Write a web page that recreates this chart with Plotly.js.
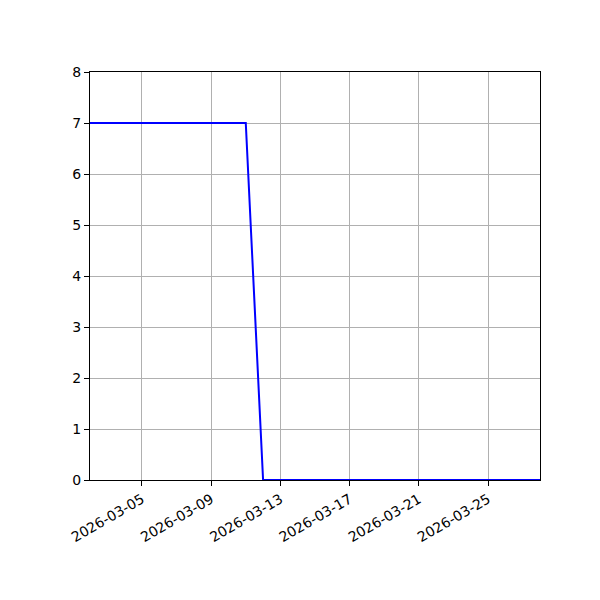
<!DOCTYPE html>
<html>
<head>
<meta charset="utf-8">
<script src="https://cdn.plot.ly/plotly-3.0.1.min.js"></script>
<style>
  html, body { margin: 0; padding: 0; background: #fff; }
  #chart { width: 600px; height: 600px; }
</style>
</head>
<body>
<div id="chart"></div>
<script>
// daily values
var dates = [
  "2026-03-02", "2026-03-03", "2026-03-04", "2026-03-05", "2026-03-06", "2026-03-07",
  "2026-03-08", "2026-03-09", "2026-03-10", "2026-03-11", "2026-03-12", "2026-03-13",
  "2026-03-14", "2026-03-15", "2026-03-16", "2026-03-17", "2026-03-18", "2026-03-19",
  "2026-03-20", "2026-03-21", "2026-03-22", "2026-03-23", "2026-03-24", "2026-03-25",
  "2026-03-26", "2026-03-27", "2026-03-28"
];
var counts = [7, 7, 7, 7, 7, 7, 7, 7, 7, 7, 0, 0, 0, 0, 0, 0, 0, 0, 0, 0, 0, 0, 0, 0, 0, 0, 0];
var tickDates = ["2026-03-05", "2026-03-09", "2026-03-13", "2026-03-17", "2026-03-21", "2026-03-25"];
var yTicks = [0, 1, 2, 3, 4, 5, 6, 7, 8];

var axisCommon = {
  showline: true, linecolor: "#000", linewidth: 1, mirror: true,
  ticks: "outside", ticklen: 5, tickwidth: 1, tickcolor: "#000",
  showgrid: true, gridcolor: "#b0b0b0", gridwidth: 1,
  zeroline: false, tickfont: { family: "DejaVu Sans", size: 14, color: "#000" }
};

var trace = {
  x: dates, y: counts, type: "scatter", mode: "lines",
  line: { color: "#0000ff", width: 2 }, hoverinfo: "skip"
};

var layout = {
  width: 600, height: 600,
  margin: { l: 90, r: 60, t: 72, b: 120 },
  paper_bgcolor: "#fff", plot_bgcolor: "#fff",
  showlegend: false,
  xaxis: Object.assign({}, axisCommon, {
    type: "date", range: [dates[0], dates[dates.length - 1]],
    tickmode: "array", tickvals: tickDates, ticktext: tickDates, tickangle: -30
  }),
  yaxis: Object.assign({}, axisCommon, {
    range: [0, 8], tickmode: "array", tickvals: yTicks
  })
};

Plotly.newPlot("chart", [trace], layout, { displayModeBar: false, staticPlot: true });
</script>
</body>
</html>
